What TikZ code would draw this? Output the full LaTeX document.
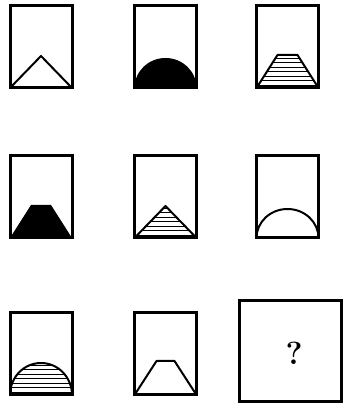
\documentclass[tikz,border=0pt]{standalone}
\begin{document}
\begin{tikzpicture}[x=1pt,y=1pt,line cap=round,line join=round,
  frame/.style={line width=3pt,line join=miter,line cap=butt},
  figline/.style={line width=2pt},
  hatch/.style={line width=1pt}]
\useasboundingbox (0,0) rectangle (345,407);
% lower left corners of the small frames
\coordinate (r1c1) at (10,319);
\coordinate (r1c2) at (134.5,319);
\coordinate (r1c3) at (256.5,319);
\coordinate (r2c1) at (10,169);
\coordinate (r2c2) at (134.5,169);
\coordinate (r2c3) at (256.5,169);
\coordinate (r3c1) at (10,12);
\coordinate (r3c2) at (134.5,12);
\foreach \c in {r1c1,r1c2,r1c3,r2c1,r2c2,r2c3,r3c1,r3c2}
  \draw[frame] (\c) rectangle ++(62,82);
% row 1
\begin{scope}[shift={(r1c1)}]
\draw[figline] (0,0) -- (31,32) -- (62,0);
\end{scope}
\begin{scope}[shift={(r1c2)}]
\fill (0,0) arc[start angle=180,end angle=0,x radius=31,y radius=30] -- cycle;
\end{scope}
\begin{scope}[shift={(r1c3)}]
\begin{scope}
\clip (0,0) -- (21,33) -- (41,33) -- (62,0) -- cycle;
\foreach \y in {2.5,7,...,33} \draw[hatch] (0,\y) -- (62,\y);
\end{scope}
\draw[figline] (0,0) -- (21,33) -- (41,33) -- (62,0);
\end{scope}
% row 2
\begin{scope}[shift={(r2c1)}]
\fill (0,0) -- (21,33) -- (41,33) -- (62,0) -- cycle;
\end{scope}
\begin{scope}[shift={(r2c2)}]
\begin{scope}
\clip (0,0) -- (31,32) -- (62,0) -- cycle;
\foreach \y in {2.5,7,...,32} \draw[hatch] (0,\y) -- (62,\y);
\end{scope}
\draw[figline] (0,0) -- (31,32) -- (62,0);
\end{scope}
\begin{scope}[shift={(r2c3)}]
\draw[figline] (0,0) arc[start angle=180,end angle=0,x radius=31,y radius=29];
\end{scope}
% row 3
\begin{scope}[shift={(r3c1)}]
\begin{scope}
\clip (0,0) arc[start angle=180,end angle=0,x radius=31,y radius=32] -- cycle;
\foreach \y in {2.5,7,...,32} \draw[hatch] (0,\y) -- (62,\y);
\end{scope}
\draw[figline] (0,0) arc[start angle=180,end angle=0,x radius=31,y radius=32];
\end{scope}
\begin{scope}[shift={(r3c2)}]
\draw[figline] (0,0) -- (22,34) -- (40,34) -- (62,0);
\end{scope}
% answer frame
\draw[frame] (239,5.5) rectangle (341,106);
\node[font=\bfseries\fontsize{32}{34}\selectfont] (ask) at (294,54) {?};
\end{tikzpicture}
\end{document}
